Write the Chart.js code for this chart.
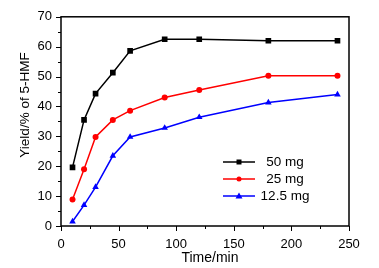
<!DOCTYPE html>
<html>
<head>
<meta charset="utf-8">
<script src="https://cdn.jsdelivr.net/npm/chart.js@4"></script>
<style>
  html, body { margin: 0; padding: 0; background: #fff; }
  #wrap { width: 379px; height: 268px; position: relative; }
</style>
</head>
<body>
<div id="wrap"><canvas id="yield-chart"></canvas></div>
<script>
const times = [10, 20, 30, 45, 60, 90, 120, 180, 240];
const yield50 = [19.6, 35.5, 44.3, 51.3, 58.6, 62.5, 62.5, 62.0, 62.0];
const yield25 = [8.9, 19.0, 29.8, 35.5, 38.6, 43.0, 45.5, 50.3, 50.3];
const yield125 = [1.5, 7.0, 13.0, 23.5, 29.8, 32.8, 36.4, 41.3, 44.0];
const seriesNames = ['50 mg', '25 mg', '12.5 mg'];
const xTicks = [0, 50, 100, 150, 200, 250];
const yTicks = [0, 10, 20, 30, 40, 50, 60, 70];
const xTitle = 'Time/min';
const yTitle = 'Yield/% of 5-HMF';

const toPoints = arr => arr.map((v, i) => ({ x: times[i], y: v }));

const colors = ['#000000', '#ff0000', '#0000ff'];
const markers = ['rect', 'circle', 'triangle'];
const radii = [4, 3, 3.8];
const fam = '"Liberation Sans", Arial, sans-serif';

// frame, outward ticks, axis titles and the in-plot legend
const framePlugin = {
  id: 'frame',
  afterDraw(chart) {
    const { ctx, chartArea: a, scales: { x, y } } = chart;
    ctx.save();
    ctx.strokeStyle = '#000';
    ctx.lineWidth = 1.5;
    ctx.strokeRect(a.left, a.top, a.right - a.left, a.bottom - a.top);

    ctx.lineWidth = 1;
    for (let v = 0; v <= 250; v += 25) {
      const px = Math.round(x.getPixelForValue(v)) + 0.5;
      const len = v % 50 === 0 ? 5 : 3;
      ctx.beginPath();
      ctx.moveTo(px, a.bottom);
      ctx.lineTo(px, a.bottom + len);
      ctx.stroke();
    }
    for (let v = 0; v <= 70; v += 5) {
      const py = Math.round(y.getPixelForValue(v)) + 0.5;
      const len = v % 10 === 0 ? 5 : 3;
      ctx.beginPath();
      ctx.moveTo(a.left, py);
      ctx.lineTo(a.left - len, py);
      ctx.stroke();
    }

    // axis titles
    ctx.fillStyle = '#000';
    ctx.textAlign = 'center';
    ctx.textBaseline = 'middle';
    ctx.font = '14px ' + fam;
    ctx.fillText(xTitle, 210, 258);
    ctx.save();
    ctx.translate(25, 105);
    ctx.rotate(-Math.PI / 2);
    ctx.font = '13.5px ' + fam;
    ctx.fillText(yTitle, 0, 0);
    ctx.restore();

    // legend
    const lx0 = 223, lx1 = 255, tx = 285;
    const rows = [162, 179, 196];
    ctx.font = '13.5px ' + fam;
    seriesNames.forEach((name, i) => {
      const ly = rows[i];
      ctx.strokeStyle = colors[i];
      ctx.fillStyle = colors[i];
      ctx.lineWidth = 1.5;
      ctx.beginPath();
      ctx.moveTo(lx0, ly);
      ctx.lineTo(lx1, ly);
      ctx.stroke();
      const cx = (lx0 + lx1) / 2;
      ctx.beginPath();
      if (i === 0) {
        ctx.rect(cx - 2.5, ly - 2.5, 5, 5);
      } else if (i === 1) {
        ctx.arc(cx, ly, 2.5, 0, Math.PI * 2);
      } else {
        ctx.moveTo(cx, ly - 3.5);
        ctx.lineTo(cx + 3.5, ly + 2.5);
        ctx.lineTo(cx - 3.5, ly + 2.5);
        ctx.closePath();
      }
      ctx.fill();
      ctx.fillStyle = '#000';
      ctx.fillText(name, tx, ly);
    });
    ctx.restore();
  }
};

const font = { family: fam, size: 13 };

new Chart(document.getElementById('yield-chart'), {
  type: 'line',
  data: {
    datasets: [yield50, yield25, yield125].map((arr, i) => ({
      label: seriesNames[i],
      data: toPoints(arr),
      borderColor: colors[i],
      backgroundColor: colors[i],
      borderWidth: 1.5,
      pointStyle: markers[i],
      pointRadius: radii[i],
      pointBorderWidth: 0,
      pointHoverRadius: radii[i],
      tension: 0
    }))
  },
  plugins: [framePlugin],
  options: {
    responsive: true,
    maintainAspectRatio: false,
    animation: false,
    layout: { padding: { left: 0, top: 14, right: 30, bottom: 0 } },
    plugins: { legend: { display: false }, tooltip: { enabled: false } },
    scales: {
      x: {
        type: 'linear',
        min: 0,
        max: 250,
        afterBuildTicks: s => { s.ticks = xTicks.map(v => ({ value: v })); },
        afterFit: s => { s.height = 42; },
        grid: { display: false, drawTicks: false },
        border: { display: false },
        ticks: { color: '#000', font, padding: 11, maxRotation: 0 }
      },
      y: {
        min: 0,
        max: 70,
        afterBuildTicks: s => { s.ticks = yTicks.map(v => ({ value: v })); },
        afterFit: s => { s.width = 61; },
        grid: { display: false, drawTicks: false },
        border: { display: false },
        ticks: { color: '#000', font, padding: 9 }
      }
    }
  }
});
</script>
</body>
</html>
